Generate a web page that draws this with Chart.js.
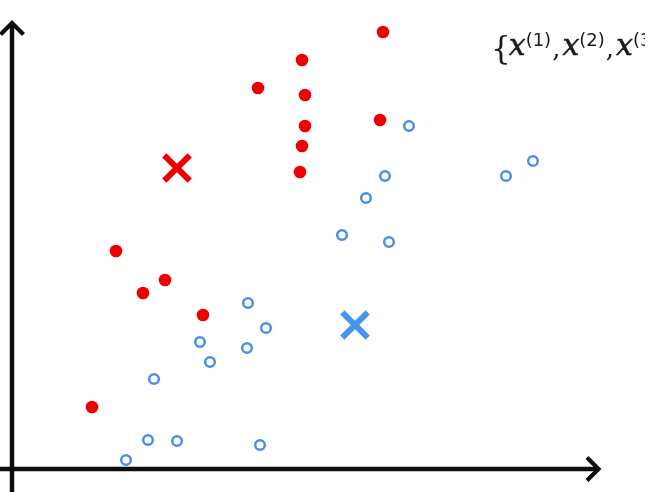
<!DOCTYPE html>
<html>
<head>
<meta charset="utf-8">
<script src="https://cdn.jsdelivr.net/npm/chart.js@4.4.1/dist/chart.umd.min.js"></script>
<style>
  html, body { margin: 0; padding: 0; background: #ffffff; overflow: hidden; }
  #wrap { position: relative; width: 661px; height: 492px; }
</style>
</head>
<body>
<div id="wrap"><canvas id="c" width="661" height="492"></canvas></div>
<script>
// Class 1 (red, filled)
const redX = [37.1, 29.0, 24.6, 29.3, 29.3, 29.0, 28.8, 36.8, 10.4, 15.3, 13.1, 19.1, 8.0];
const redY = [43.7, 40.9, 38.1, 37.4, 34.3, 32.3, 29.7, 34.9, 21.8, 18.9, 17.6, 15.4, 6.2];
// Class 2 (blue, hollow)
const blueX = [39.7, 37.3, 35.4, 33.0, 37.7, 49.4, 52.1, 23.6, 25.4, 18.8, 23.5, 19.8, 14.2, 13.6, 16.5, 24.8, 11.4];
const blueY = [34.3, 29.3, 27.1, 23.4, 22.7, 29.3, 30.8, 16.6, 14.1, 12.7, 12.1, 10.7, 9.0, 2.9, 2.8, 2.4, 0.9];
// Cluster centroids
const centroidRed = [16.5, 30.1];
const centroidBlue = [34.3, 14.4];
// Annotation text pieces: [text, kind]
const labelParts = [["{", "brace"], ["x", "var"], ["(1)", "sup"], [",", "comma"], ["x", "var"], ["(2)", "sup"], [",", "comma"], ["x", "var"], ["(3)", "sup"], [",", "comma"], ["x", "var"]];

const toPts = (xs, ys) => xs.map((x, i) => ({ x: x, y: ys[i] }));

const RED = 'rgb(238,0,0)';
const BLUE = 'rgb(74,144,226)';
const BLUE_X = 'rgb(72,150,236)';

const axesPlugin = {
  id: 'axesArrows',
  beforeDatasetsDraw(chart) {
    const { ctx, scales } = chart;
    const xs = scales.x, ys = scales.y;
    const ox = xs.getPixelForValue(0);
    const oy = ys.getPixelForValue(0);
    const topY = ys.getPixelForValue(44.7);
    const rightX = xs.getPixelForValue(58.8);
    const bottomY = chart.height;
    ctx.save();
    ctx.strokeStyle = '#0d0d0d';
    ctx.lineWidth = 4.5;
    ctx.lineCap = 'butt';
    ctx.lineJoin = 'miter';
    ctx.beginPath();
    ctx.moveTo(ox, bottomY);
    ctx.lineTo(ox, topY + 2);
    ctx.stroke();
    ctx.beginPath();
    ctx.moveTo(0, oy);
    ctx.lineTo(rightX - 2, oy);
    ctx.stroke();
    ctx.lineWidth = 4.2;
    ctx.beginPath();
    ctx.moveTo(ox - 11.5, topY + 12.5);
    ctx.lineTo(ox, topY + 1);
    ctx.lineTo(ox + 11.5, topY + 12.5);
    ctx.stroke();
    ctx.beginPath();
    ctx.moveTo(rightX - 13, oy - 11.5);
    ctx.lineTo(rightX - 1.5, oy);
    ctx.lineTo(rightX - 13, oy + 11.5);
    ctx.stroke();
    ctx.restore();
  },
  afterDraw(chart) {
    const { ctx } = chart;
    ctx.save();
    ctx.beginPath();
    ctx.rect(0, 0, 645, chart.height);
    ctx.clip();
    ctx.fillStyle = '#1a1a1a';
    ctx.strokeStyle = '#1a1a1a';
    ctx.lineWidth = 0.5;
    ctx.textBaseline = 'alphabetic';
    let x = 491;
    const base = 55;
    labelParts.forEach(([t, kind]) => {
      if (kind === 'brace') {
        ctx.font = '31px "DejaVu Serif", serif';
        ctx.fillText(t, x, base + 4);
        x += ctx.measureText(t).width - 2;
      } else if (kind === 'var') {
        ctx.font = 'italic 30px "DejaVu Serif", serif';
        ctx.fillText(t, x, base);
        ctx.strokeText(t, x, base);
        x += ctx.measureText(t).width;
      } else if (kind === 'sup') {
        ctx.font = '18px "DejaVu Sans", sans-serif';
        ctx.fillText(t, x, base - 9);
        x += ctx.measureText(t).width + 1;
      } else {
        ctx.font = '26px "DejaVu Serif", serif';
        ctx.fillText(t, x, base + 2);
        x += ctx.measureText(t).width + 2;
      }
    });
    ctx.restore();
  }
};

new Chart(document.getElementById('c'), {
  type: 'scatter',
  data: {
    datasets: [
      {
        label: 'class 1',
        data: toPts(redX, redY),
        pointStyle: 'circle',
        pointRadius: 6.3,
        pointBackgroundColor: RED,
        pointBorderColor: RED,
        pointBorderWidth: 0
      },
      {
        label: 'class 2',
        data: toPts(blueX, blueY),
        pointStyle: 'circle',
        pointRadius: 4.8,
        pointBackgroundColor: 'rgba(255,255,255,1)',
        pointBorderColor: BLUE,
        pointBorderWidth: 2.5
      },
      {
        label: 'centroid 1',
        data: [{ x: centroidRed[0], y: centroidRed[1] }],
        pointStyle: 'crossRot',
        pointRadius: 18,
        pointBorderColor: RED,
        pointBorderWidth: 6
      },
      {
        label: 'centroid 2',
        data: [{ x: centroidBlue[0], y: centroidBlue[1] }],
        pointStyle: 'crossRot',
        pointRadius: 18,
        pointBorderColor: BLUE_X,
        pointBorderWidth: 6
      }
    ]
  },
  options: {
    responsive: false,
    animation: false,
    devicePixelRatio: 1,
    layout: { padding: 0, autoPadding: false },
    plugins: { legend: { display: false }, tooltip: { enabled: false } },
    elements: { point: { hoverRadius: 0 } },
    scales: {
      x: { type: 'linear', min: -1.2, max: 64.9, display: false },
      y: { type: 'linear', min: -2.3, max: 46.9, display: false }
    }
  },
  plugins: [axesPlugin]
});
</script>
</body>
</html>
